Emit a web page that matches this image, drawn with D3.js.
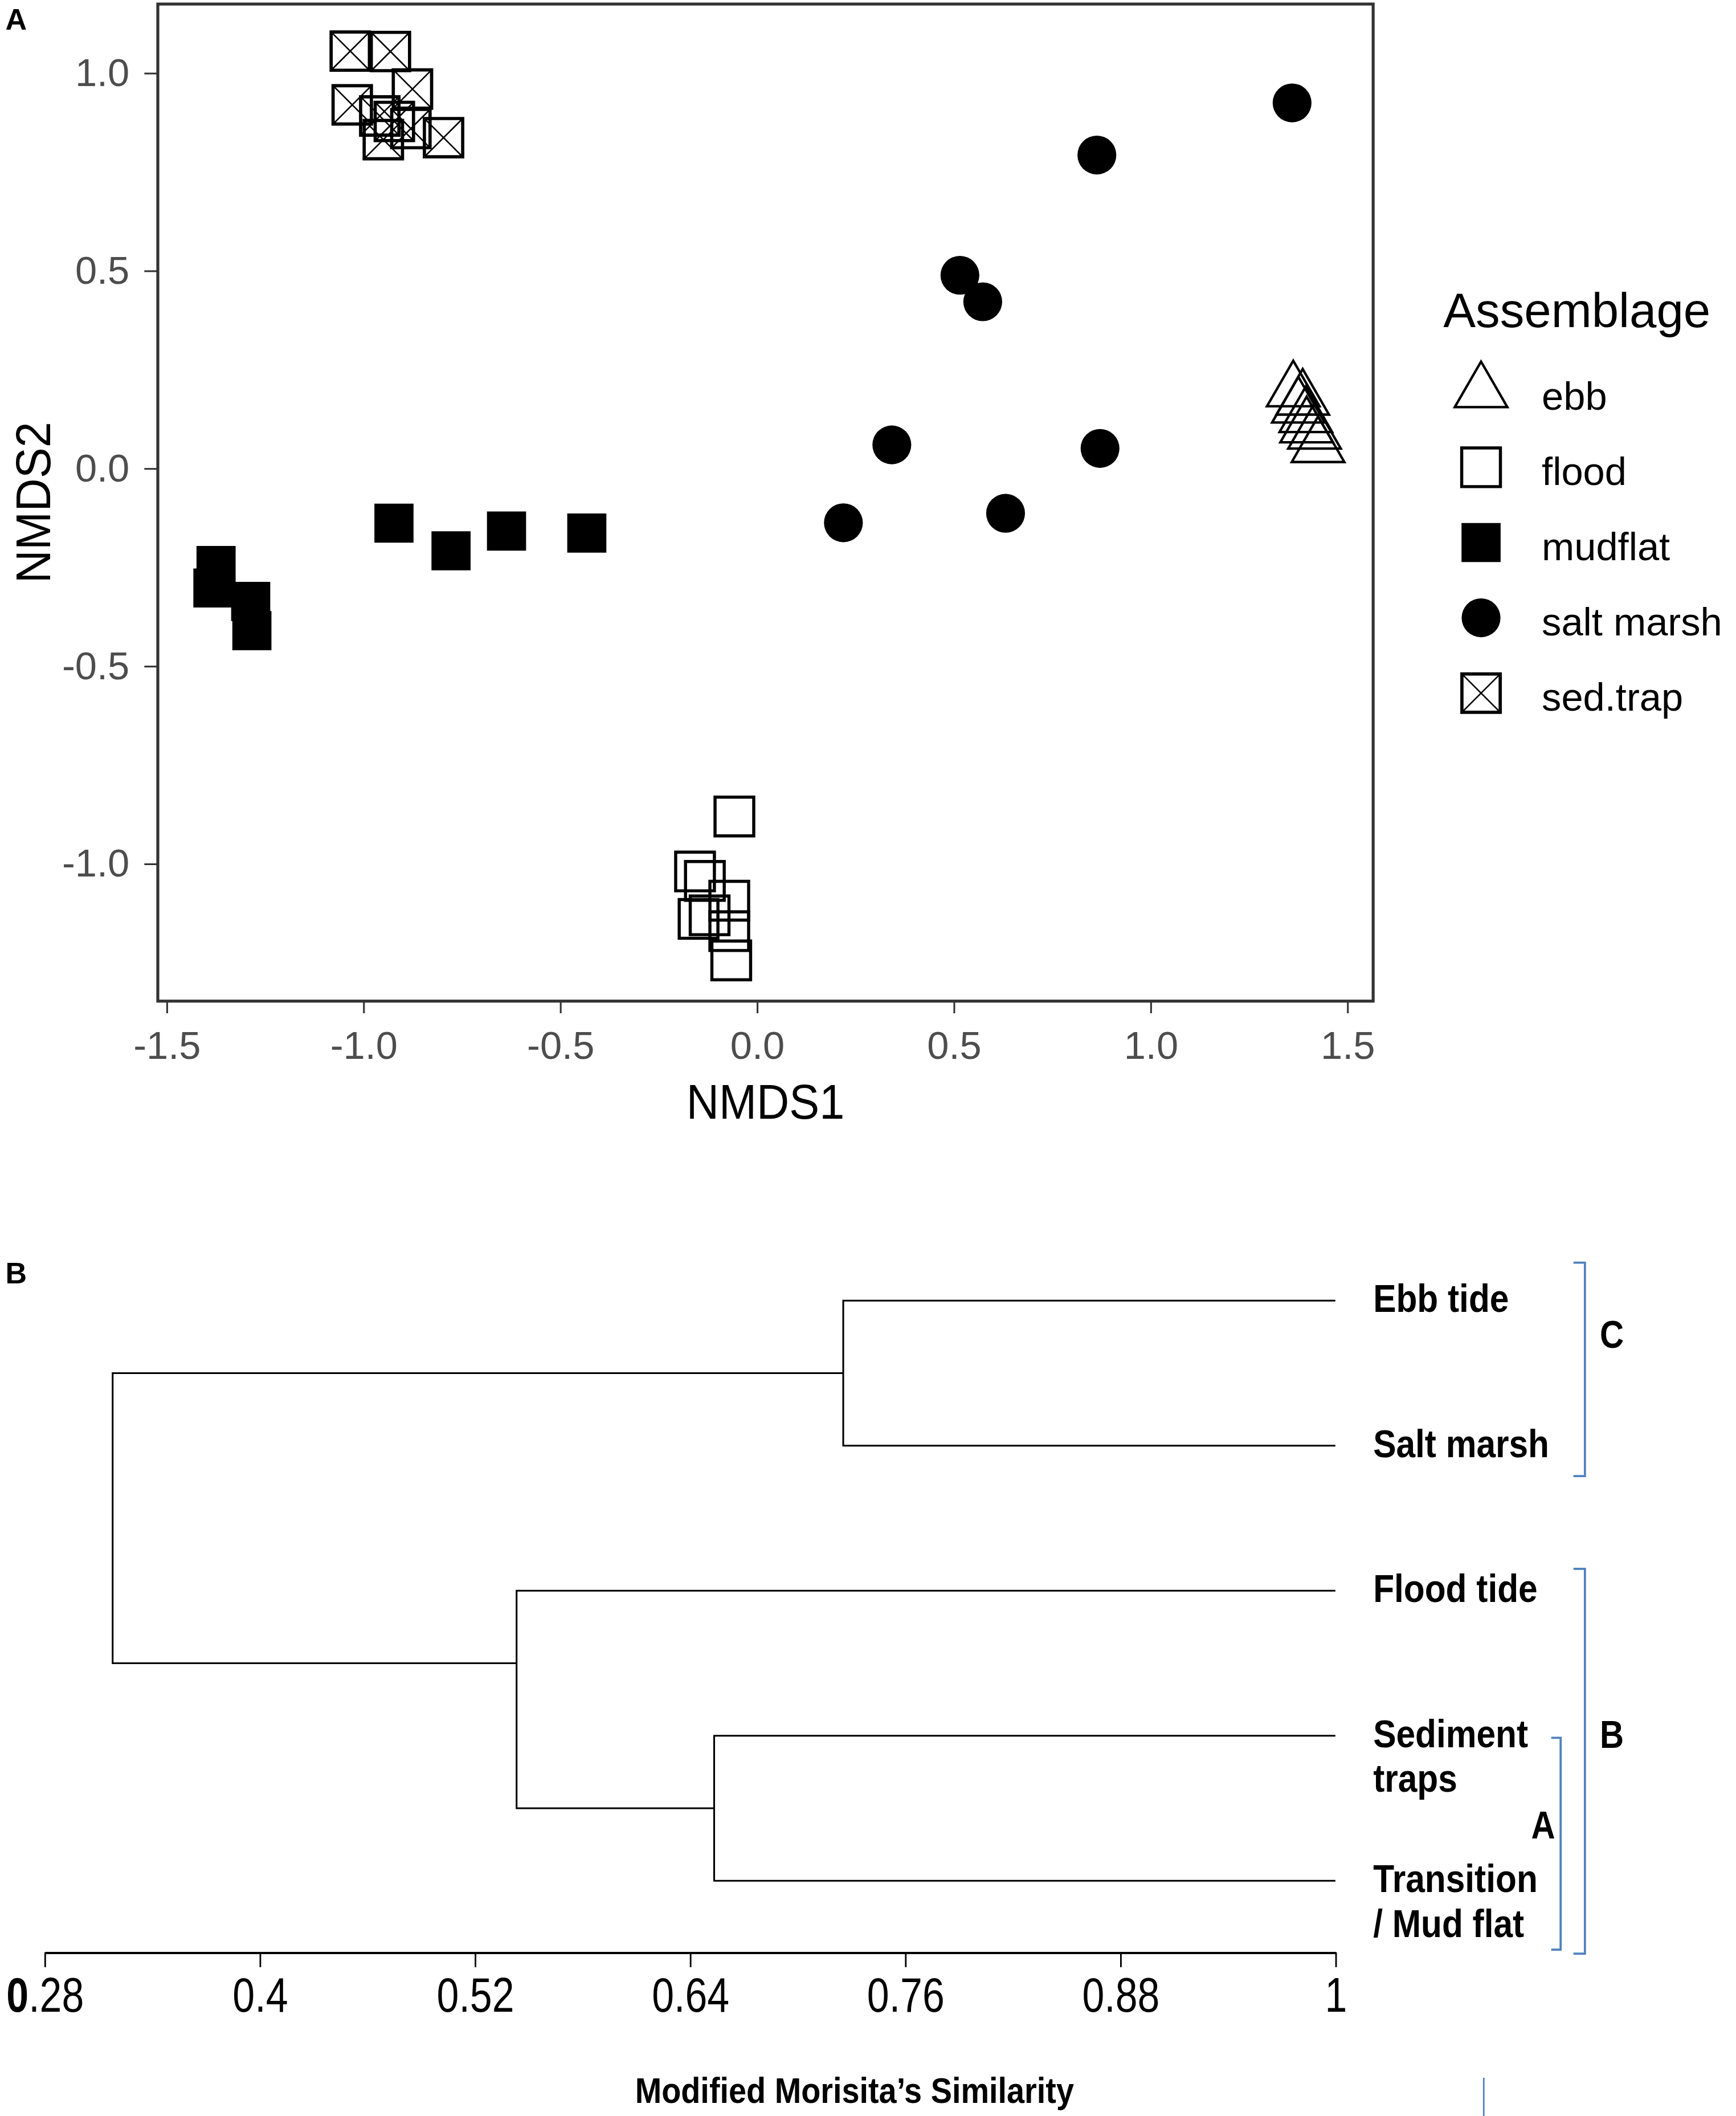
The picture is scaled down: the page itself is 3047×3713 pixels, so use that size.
<!DOCTYPE html>
<html>
<head>
<meta charset="utf-8">
<script src="https://cdn.jsdelivr.net/npm/d3@7"></script>
<style>
  html, body { margin: 0; padding: 0; background: #fff; overflow: hidden; }
  svg { display: block; }
  text { font-family: "Liberation Sans", Arial, Helvetica, sans-serif; }
</style>
</head>
<body>
<div id="chart"></div>
<script>
// ---------- Panel A: NMDS scores ----------
const assemblages = ["ebb", "flood", "mudflat", "salt marsh", "sed.trap"];

const ebbNMDS1 = [1.363, 1.387, 1.376, 1.395, 1.397, 1.417, 1.426];
const ebbNMDS2 = [0.195, 0.174, 0.154, 0.130, 0.104, 0.088, 0.054];

const floodNMDS1 = [-0.057, -0.157, -0.132, -0.070, -0.148, -0.120, -0.070, -0.065];
const floodNMDS2 = [-0.881, -1.020, -1.044, -1.094, -1.140, -1.131, -1.171, -1.245];

const mudflatNMDS1 = [-1.374, -1.382, -1.286, -1.283, -0.922, -0.777, -0.636, -0.432];
const mudflatNMDS2 = [-0.246, -0.303, -0.337, -0.411, -0.139, -0.209, -0.159, -0.164];

const saltNMDS1 = [1.360, 0.864, 0.516, 0.574, 0.343, 0.872, 0.220, 0.632];
const saltNMDS2 = [0.924, 0.792, 0.488, 0.421, 0.059, 0.050, -0.138, -0.114];

const sedNMDS1 = [-1.033, -0.931, -0.875, -1.028, -0.958, -0.949, -0.879, -0.796, -0.921];
const sedNMDS2 = [1.055, 1.054, 0.959, 0.919, 0.891, 0.831, 0.859, 0.836, 0.877];

const xLimits = [-1.522, 1.566];
const yLimits = [-1.348, 1.174];
const nmdsXTicks = [-1.5, -1.0, -0.5, 0.0, 0.5, 1.0, 1.5];
const nmdsYTicks = [-1.0, -0.5, 0.0, 0.5, 1.0];

// ---------- Panel B: dendrogram (Modified Morisita similarity) ----------
const leafLabels = [["Ebb tide"], ["Salt marsh"], ["Flood tide"], ["Sediment", "traps"], ["Transition", "/ Mud flat"]];
// merges like R hclust: negative = leaf (1-based), positive = earlier merge (1-based)
const mergePairs = [[-1, -2], [-4, -5], [-3, 2], [1, 3]];
const mergeSimilarity = [0.7255, 0.6535, 0.5433, 0.318];
const simTicks = [0.28, 0.4, 0.52, 0.64, 0.76, 0.88, 1];
const simTickLabels = ["0.28", "0.4", "0.52", "0.64", "0.76", "0.88", "1"];
const groupNames = ["C", "B", "A"];
const groupFrom = [0, 2, 3];
const groupTo = [1, 4, 4];

// ---------- setup ----------
const W = 1287, H = 1568.3;
const font = '"Liberation Sans", Arial, Helvetica, sans-serif';
const blue = "#4f81bd";

const svg = d3.select("#chart").append("svg")
    .attr("width", 3047)
    .attr("height", 3713)
    .attr("viewBox", `0 0 ${W} ${H}`);

svg.append("rect").attr("width", W).attr("height", H).attr("fill", "#fff");

// text helper: allows horizontal squeeze like the source image
function addText(parent, x, y, str, o) {
    const t = parent.append("text")
        .attr("transform", `translate(${x},${y})${o.rotate ? " rotate(" + o.rotate + ")" : ""} scale(${o.sx || 1},1)`)
        .attr("font-size", o.size)
        .attr("font-weight", o.bold ? "bold" : "normal")
        .attr("fill", o.fill || "#000")
        .attr("text-anchor", o.anchor || "start")
        .text(str);
    return t;
}

// ===================== Panel A =====================
const box = {left: 117, right: 1018, top: 3, bottom: 742};

const x = d3.scaleLinear().domain(xLimits).range([box.left, box.right]);
const y = d3.scaleLinear().domain(yLimits).range([box.bottom, box.top]);

addText(svg, 4, 22, "A", {size: 22, bold: true});

// Axes
const fmt1 = d => d.toFixed(1);
const gx = svg.append("g")
    .attr("transform", `translate(0,${box.bottom})`)
    .call(d3.axisBottom(x).tickValues(nmdsXTicks).tickFormat(fmt1).tickSize(9).tickPadding(13).tickSizeOuter(0));
const gy = svg.append("g")
    .attr("transform", `translate(${box.left},0)`)
    .call(d3.axisLeft(y).tickValues(nmdsYTicks).tickFormat(fmt1).tickSize(10).tickPadding(11).tickSizeOuter(0));

[gx, gy].forEach(g => {
    g.select(".domain").remove();
    g.attr("font-family", font).attr("font-size", 29);
    g.selectAll(".tick line").attr("stroke", "#333").attr("stroke-width", 1.3);
    g.selectAll(".tick text").attr("fill", "#4d4d4d");
});

// Panel border
svg.append("rect")
    .attr("x", box.left).attr("y", box.top)
    .attr("width", box.right - box.left).attr("height", box.bottom - box.top)
    .attr("fill", "none").attr("stroke", "#333").attr("stroke-width", 2.2);

// Axis titles
addText(svg, (box.left + box.right) / 2, 829, "NMDS1", {size: 36, sx: 0.93, anchor: "middle"});
addText(svg, 37, (box.top + box.bottom) / 2, "NMDS2", {size: 36, sx: 0.95, anchor: "middle", rotate: -90});

// Shape drawing per assemblage
const triSide = 39;
function drawShape(g, name) {
    if (name === "ebb") {
        g.append("path")
            .attr("d", d3.symbol(d3.symbolTriangle, triSide * triSide * Math.sqrt(3) / 4)())
            .attr("fill", "none").attr("stroke", "#000").attr("stroke-width", 1.8);
    } else if (name === "flood") {
        g.append("path")
            .attr("d", d3.symbol(d3.symbolSquare, 28.7 * 28.7)())
            .attr("fill", "none").attr("stroke", "#000").attr("stroke-width", 2.3);
    } else if (name === "mudflat") {
        g.append("path")
            .attr("d", d3.symbol(d3.symbolSquare, 29 * 29)())
            .attr("fill", "#000");
    } else if (name === "salt marsh") {
        g.append("path")
            .attr("d", d3.symbol(d3.symbolCircle, Math.PI * 14.4 * 14.4)())
            .attr("fill", "#000");
    } else {
        const h = 14.2;
        g.append("path")
            .attr("d", d3.symbol(d3.symbolSquare, (2 * h) * (2 * h))())
            .attr("fill", "none").attr("stroke", "#000").attr("stroke-width", 2.4);
        g.append("path")
            .attr("d", `M${-h},${-h}L${h},${h}M${-h},${h}L${h},${-h}`)
            .attr("fill", "none").attr("stroke", "#000").attr("stroke-width", 1.1);
    }
}

// Build point table from the arrays
const seriesX = [ebbNMDS1, floodNMDS1, mudflatNMDS1, saltNMDS1, sedNMDS1];
const seriesY = [ebbNMDS2, floodNMDS2, mudflatNMDS2, saltNMDS2, sedNMDS2];
const points = [];
assemblages.forEach((name, i) => {
    seriesX[i].forEach((v, j) => points.push({group: name, n1: v, n2: seriesY[i][j]}));
});

svg.append("g").selectAll("g.pt")
    .data(points)
    .join("g")
    .attr("class", "pt")
    .attr("transform", d => `translate(${x(d.n1)},${y(d.n2)})`)
    .each(function(d) { drawShape(d3.select(this), d.group); });

// Legend
const legend = svg.append("g");
addText(legend, 1070, 242.6, "Assemblage", {size: 36});
const legendY = d3.scaleLinear().domain([0, assemblages.length - 1]).range([290.5, 513.7]);
assemblages.forEach((name, i) => {
    const row = legend.append("g").attr("transform", `translate(1098,${legendY(i)})`);
    drawShape(row, name);
    addText(legend, 1143, legendY(i) + 13, name, {size: 29});
});

// ===================== Panel B =====================
addText(svg, 4, 951, "B", {size: 22, bold: true});

const xB = d3.scaleLinear().domain([0.28, 1]).range([33, 990]);
const yB = d3.scaleLinear().domain([0, leafLabels.length - 1]).range([964, 1394]);

// node position: leaves at their index, merges between first leaves of children
function firstLeaf(id) {
    if (id < 0) return -id - 1;
    return firstLeaf(mergePairs[id - 1][0]);
}
function nodePos(id) {
    if (id < 0) return -id - 1;
    const [a, b] = mergePairs[id - 1];
    return (firstLeaf(a) + firstLeaf(b)) / 2 + (a < 0 && b < 0 ? 0 : 0);
}
function nodeSim(id) {
    return id < 0 ? 1 : mergeSimilarity[id - 1];
}

const dendro = svg.append("g")
    .attr("fill", "none").attr("stroke", "#000").attr("stroke-width", 1.3);

mergePairs.forEach((pair, k) => {
    const nx = xB(mergeSimilarity[k]);
    const [a, b] = pair;
    const p = d3.path();
    p.moveTo(xB(nodeSim(a)), yB(nodePos(a)));
    p.lineTo(nx, yB(nodePos(a)));
    p.lineTo(nx, yB(nodePos(b)));
    p.lineTo(xB(nodeSim(b)), yB(nodePos(b)));
    dendro.append("path").attr("d", p.toString());
});

// Leaf labels
leafLabels.forEach((lines, i) => {
    lines.forEach((ln, j) => {
        addText(svg, 1018, yB(i) + 8.5 + j * 33, ln, {size: 29, bold: true, sx: 0.88});
    });
});

// Similarity axis
const gb = svg.append("g")
    .attr("transform", "translate(0,1447)")
    .call(d3.axisBottom(xB).tickValues(simTicks).tickFormat((d, i) => simTickLabels[i])
        .tickSize(11).tickPadding(7.5).tickSizeOuter(0));
gb.attr("font-family", font).attr("font-size", 36);
gb.select(".domain").attr("stroke", "#000").attr("stroke-width", 1.6);
gb.selectAll(".tick line").attr("stroke", "#000").attr("stroke-width", 1.2);
gb.selectAll(".tick text").attr("fill", "#000").attr("transform", "scale(0.82,1)");
gb.selectAll(".tick text").filter((d, i) => i === 0).each(function(d, i) {
    const t = d3.select(this);
    const s = t.text();
    t.text(null);
    t.append("tspan").attr("font-weight", "bold").text(s.charAt(0));
    t.append("tspan").text(s.slice(1));
});

addText(svg, 633.5, 1558.7, "Modified Morisita\u2019s Similarity", {size: 26.5, bold: true, sx: 0.89, anchor: "middle"});

// Group brackets (blue)
const bracketLayout = {
    C: {x: 1175, top: -28.2, bottom: 22.5, tick: 8.5, lx: 1186, ly: 999, anchor: "start"},
    B: {x: 1175, top: -16.2, bottom: 54, tick: 8.5, lx: 1186, ly: 1295.6, anchor: "start"},
    A: {x: 1157, top: 1.5, bottom: 51, tick: 7, lx: 1153, ly: 1362.5, anchor: "end"}
};
groupNames.forEach((name, i) => {
    const L = bracketLayout[name];
    const y0 = yB(groupFrom[i]) + L.top, y1 = yB(groupTo[i]) + L.bottom;
    svg.append("path")
        .attr("d", `M${L.x - L.tick},${y0}H${L.x}V${y1}H${L.x - L.tick}`)
        .attr("fill", "none").attr("stroke", blue).attr("stroke-width", 1.6);
    addText(svg, L.lx, L.ly, name, {size: 29, bold: true, sx: 0.85, anchor: L.anchor});
});

// stray blue rule at the bottom edge of the source figure
svg.append("line")
    .attr("x1", 1100).attr("x2", 1100).attr("y1", 1540).attr("y2", H)
    .attr("stroke", blue).attr("stroke-width", 1.2);
</script>
</body>
</html>
